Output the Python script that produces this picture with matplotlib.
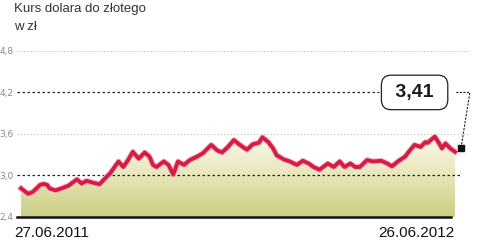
import numpy as np
import matplotlib
matplotlib.use("Agg")
import matplotlib.pyplot as plt
from matplotlib.colors import LinearSegmentedColormap

# ---- data ----
start_label = "27.06.2011"
end_label = "26.06.2012"
day = [0, 6, 10, 16, 19, 22, 24, 29, 34, 40, 47, 51, 55, 61, 66, 71, 75, 82, 86, 90,
       94, 99, 104, 108, 111, 114, 120, 124, 128, 132, 137, 142, 148, 153, 160, 165,
       169, 174, 179, 184, 190, 195, 200, 203, 208, 212, 215, 221, 226, 232, 237, 242,
       246, 251, 258, 263, 268, 272, 277, 281, 285, 291, 296, 303, 308, 312, 317, 323,
       327, 331, 336, 340, 342, 348, 351, 354, 357, 361, 365]
rate = [2.81, 2.73, 2.76, 2.86, 2.875, 2.86, 2.81, 2.78, 2.81, 2.85, 2.94, 2.88, 2.92,
        2.89, 2.87, 2.96, 3.03, 3.20, 3.12, 3.22, 3.34, 3.24, 3.33, 3.27, 3.15, 3.12,
        3.20, 3.15, 3.01, 3.20, 3.15, 3.22, 3.27, 3.32, 3.44, 3.36, 3.33, 3.41, 3.51,
        3.44, 3.37, 3.45, 3.47, 3.55, 3.48, 3.39, 3.29, 3.23, 3.20, 3.15, 3.21, 3.17,
        3.12, 3.08, 3.17, 3.12, 3.20, 3.12, 3.17, 3.12, 3.12, 3.22, 3.20, 3.21, 3.17,
        3.13, 3.20, 3.27, 3.36, 3.44, 3.41, 3.48, 3.47, 3.56, 3.48, 3.39, 3.46, 3.39, 3.34]
yticks = [2.4, 3.0, 3.6, 4.2, 4.8]
ytick_labels = ["2,4", "3,0", "3,6", "4,2", "4,8"]
last_value = 3.41
last_label = "3,41"
title_lines = ["Kurs dolara do złotego", "w zł"]

W, H = 478, 246
fig = plt.figure(figsize=(W / 100, H / 100), dpi=100)
fig.patch.set_facecolor("white")

ax_l, ax_r = 17, 470
ax_b, ax_t = 29.3, 195
ax = fig.add_axes([ax_l / W, ax_b / H, (ax_r - ax_l) / W, (ax_t - ax_b) / H])
ax.set_facecolor("none")
for s in ax.spines.values():
    s.set_visible(False)

x = np.array(day, float)
y = np.array(rate, float)
ax.set_xlim(-3.4, 377.6)
ax.set_ylim(2.4, 4.8)

# gridlines
ax.axhline(4.8, color="#bbbbbb", lw=0.8, ls=(0, (1, 2)), zorder=1)
ax.axhline(3.6, color="#bbbbbb", lw=0.8, ls=(0, (1, 2)), zorder=1)
ax.axhline(4.2, xmax=0.80, color="#222222", lw=0.9, ls=(0, (2, 2)), zorder=1)

# gradient fill under the line
cmap = LinearSegmentedColormap.from_list("g", ["#cacd82", "#e6e6b8", "#fbf9ec"])
grad = np.linspace(0, 1, 256).reshape(-1, 1)
ymax_fill = y.max()
im = ax.imshow(grad, aspect="auto", cmap=cmap, origin="lower",
               extent=[x[0], x[-1], 2.4, ymax_fill], zorder=2)
poly = ax.fill_between(x, y, 2.4, color="none", lw=0)
im.set_clip_path(poly.get_paths()[0], transform=ax.transData)

ax.axhline(3.0, xmax=0.978, color="#222222", lw=0.9, ls=(0, (2, 2)), zorder=3)

# line
ax.plot(x, y, color="#f6b8c4", lw=4.2, solid_joinstyle="round", zorder=4)
ax.plot(x, y, color="#d41c44", lw=2.8, solid_joinstyle="round", zorder=5)

# bottom axis line
ax.axhline(2.4, xmax=0.958, color="#111111", lw=1.8, zorder=6, clip_on=False)

# y tick labels
ax.set_yticks(yticks)
ax.set_yticklabels(ytick_labels)
ax.tick_params(axis="y", length=0, pad=2.5, labelsize=6.5, labelcolor="#8a8a8a")
ax.set_xticks([])

# x labels
ax.text(x[0] - 5.5, 2.4 - 0.14, start_label, ha="left", va="top", fontsize=11,
        family=["Liberation Sans", "DejaVu Sans"], color="#111111")
ax.text(x[-1] - 0.5, 2.4 - 0.14, end_label, ha="right", va="top", fontsize=11,
        family=["Liberation Sans", "DejaVu Sans"], color="#111111")

# marker and label box
mx = x[-1] + 5
my = 3.39
ax.plot([mx], [my], marker="s", ms=4.5, color="#111111", zorder=7, clip_on=False)
box_x = 331
ax.text(box_x, 4.2, " " + last_label + " ", ha="center", va="center", fontsize=14,
        fontweight="bold",
        family=["Liberation Sans Narrow", "Liberation Sans", "DejaVu Sans"], color="#1a1a1a",
        bbox=dict(boxstyle="round,pad=0.45,rounding_size=0.5", fc="white", ec="#222222", lw=0.9),
        zorder=8)
ax.plot([box_x + 35, mx + 7.5, mx], [4.2, 4.2, my], color="#222222", lw=0.8,
        ls=(0, (2, 1.2)), zorder=6, clip_on=False)

# title
fig.text(14 / W, 1 - 3 / H, title_lines[0], ha="left", va="top", fontsize=9.5,
         family=["Liberation Sans", "DejaVu Sans"], color="#333333")
fig.text(14 / W, 1 - 21 / H, title_lines[1], ha="left", va="top", fontsize=9.5,
         family=["Liberation Sans", "DejaVu Sans"], color="#333333")

fig.savefig("out.png", dpi=100, facecolor="white")
